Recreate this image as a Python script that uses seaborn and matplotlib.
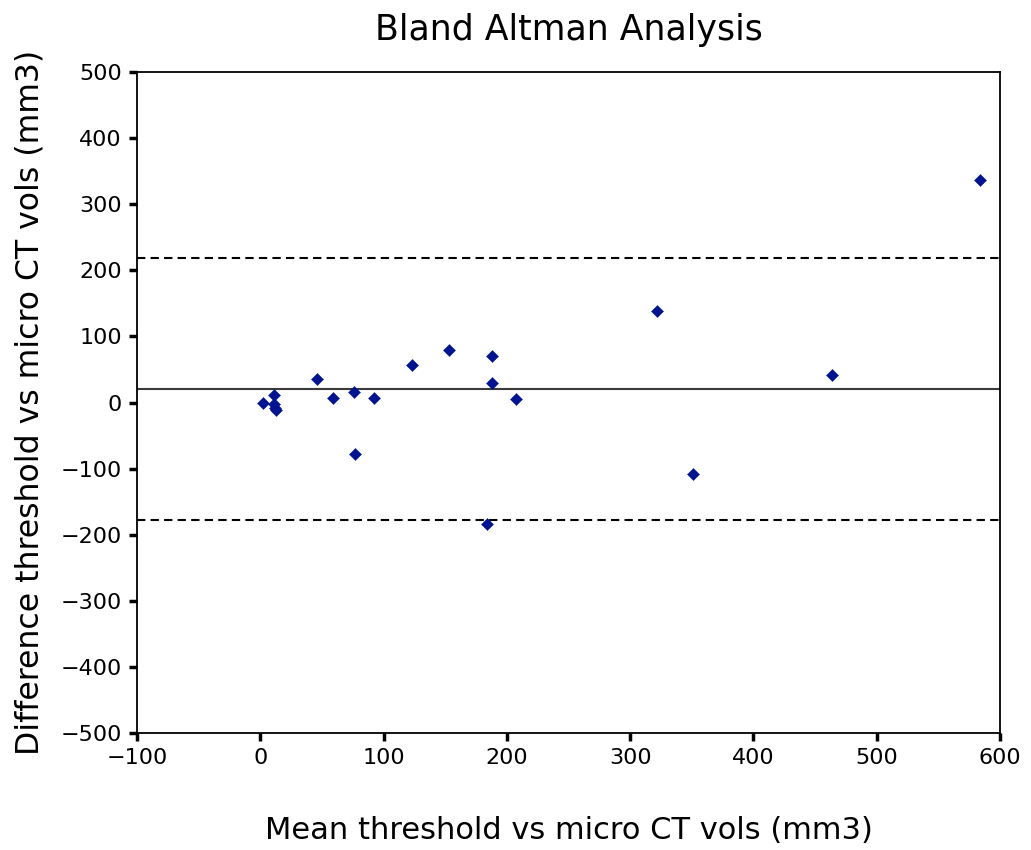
import matplotlib
matplotlib.use("Agg")
import matplotlib.pyplot as plt
import seaborn as sns
import pandas as pd

# Data
mean_vals = [2, 11, 11, 12, 13, 46, 59, 76, 92, 77, 123, 153, 188, 188, 207, 184, 322, 351, 464, 584]
diff_vals = [-1, 11, -2, -9, -12, 35, 7, 16, 7, -78, 56, 79, 71, 29, 5, -184, 138, -108, 42, 336]

mean_diff = 20
upper_loa = 218
lower_loa = -177

x_ticks = [-100, 0, 100, 200, 300, 400, 500, 600]
y_ticks = [-500, -400, -300, -200, -100, 0, 100, 200, 300, 400, 500]

title = "Bland Altman Analysis"
x_label = "Mean threshold vs micro CT vols (mm3)"
y_label = "Difference threshold vs micro CT vols (mm3)"

sns.set_theme(style="ticks")
plt.rcParams['font.family'] = ['DejaVu Sans']
plt.rcParams['text.color'] = 'black'
plt.rcParams['axes.labelcolor'] = 'black'
plt.rcParams['xtick.color'] = 'black'
plt.rcParams['ytick.color'] = 'black'

df = pd.DataFrame({"mean": mean_vals, "diff": diff_vals})

fig = plt.figure(figsize=(10.31, 8.5), dpi=100)
ax = fig.add_axes([0.1329, 0.1376, 0.8371, 0.7777])

ax.axhline(mean_diff, color="#3a3a3a", lw=1.5, zorder=1)
ax.axhline(upper_loa, color="black", lw=1.5, ls=(0, (4, 2.5)), zorder=1)
ax.axhline(lower_loa, color="black", lw=1.5, ls=(0, (4, 2.5)), zorder=1)

sns.scatterplot(data=df, x="mean", y="diff", marker="D", s=38, color="#001490",
                edgecolor="#001490", linewidth=0.3, ax=ax, zorder=3)

ax.set_xlim(-100, 600)
ax.set_ylim(-500, 500)
ax.set_xticks(x_ticks)
ax.set_yticks(y_ticks)
ax.set_xticklabels([str(t).replace("-", "\u2212") for t in x_ticks], fontsize=16)
ax.set_yticklabels([str(t).replace("-", "\u2212") for t in y_ticks], fontsize=16)

for sp in ax.spines.values():
    sp.set_color("black")
    sp.set_linewidth(1.3)
ax.tick_params(axis="both", direction="out", length=6, width=2.5, color="black", pad=5)

ax.set_title(title, fontsize=25, pad=23)
ax.set_xlabel(x_label, fontsize=22, labelpad=34)
ax.set_ylabel(y_label, fontsize=22.7, labelpad=11)

fig.savefig("out.png", dpi=100)
